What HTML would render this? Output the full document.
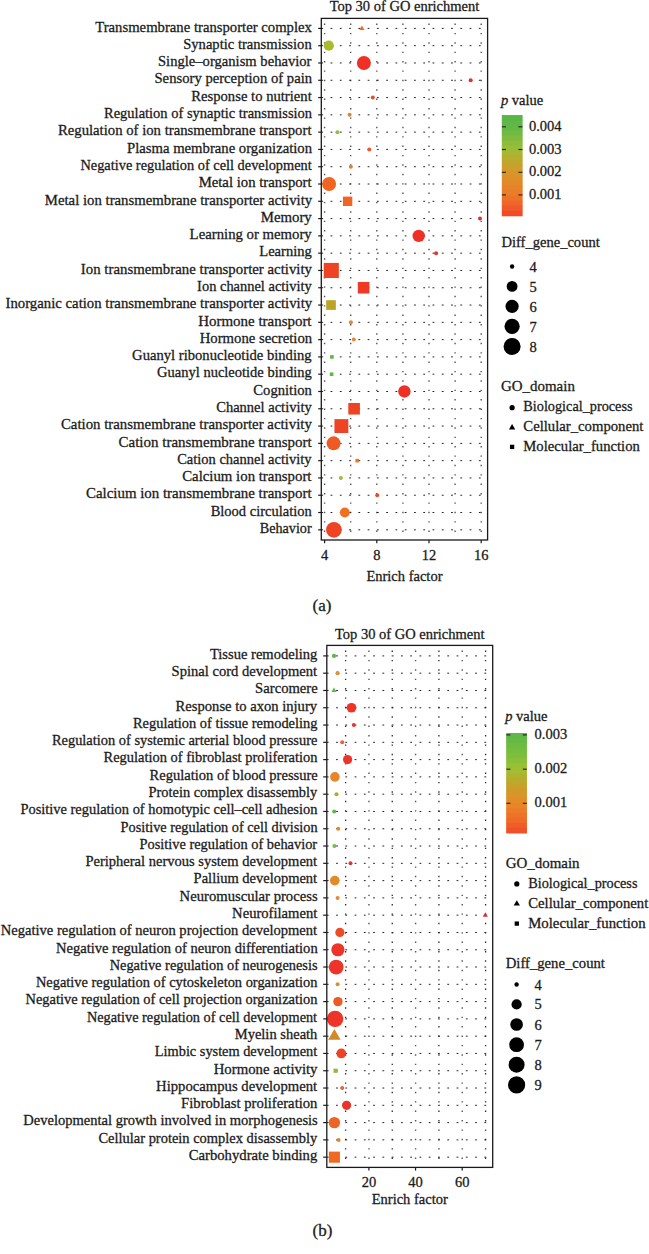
<!DOCTYPE html>
<html><head><meta charset="utf-8"><title>Top 30 of GO enrichment</title><style>html,body{margin:0;padding:0;background:#fff;}
body{width:649px;height:1254px;overflow:hidden;}
svg{display:block;}
text{font-family:"Liberation Serif", serif;fill:#1a1a1a;stroke:#1a1a1a;stroke-width:0.28px;}
.vg{stroke:#555;stroke-width:1.4;stroke-dasharray:1.4 7.99;stroke-dashoffset:4.29;fill:none;}
.vd{stroke:#2a2a2a;stroke-width:1.3;}
.hg{stroke:#222;stroke-width:1.0;stroke-dasharray:1.8 7.47;fill:none;}
.bd{fill:none;stroke:#1a1a1a;stroke-width:1.3;}
.tk{stroke:#1a1a1a;stroke-width:1.2;}
.ct{stroke:#1e1e1e;stroke-width:1.1;}
</style></head><body>
<svg width="649" height="1254" viewBox="0 0 649 1254">
<defs>
<linearGradient id="gA" x1="0" y1="1" x2="0" y2="0"><stop offset="0" stop-color="#EE4426"/><stop offset="0.10" stop-color="#F0602A"/><stop offset="0.21" stop-color="#EC7A28"/><stop offset="0.43" stop-color="#D8962A"/><stop offset="0.55" stop-color="#BEA82C"/><stop offset="0.66" stop-color="#9CBE38"/><stop offset="0.88" stop-color="#62B846"/><stop offset="1" stop-color="#56B648"/></linearGradient>
<linearGradient id="gB" x1="0" y1="1" x2="0" y2="0"><stop offset="0" stop-color="#EF4C26"/><stop offset="0.13" stop-color="#F06A26"/><stop offset="0.30" stop-color="#E88A28"/><stop offset="0.47" stop-color="#C8A02A"/><stop offset="0.64" stop-color="#9EC032"/><stop offset="0.80" stop-color="#78BE3E"/><stop offset="1" stop-color="#5AB848"/></linearGradient>
</defs>
<rect width="649" height="1254" fill="#fff"/>
<line x1="324.60" y1="18.40" x2="324.60" y2="540.00" class="vg"/>
<line x1="350.70" y1="18.40" x2="350.70" y2="540.00" class="vg"/>
<line x1="376.80" y1="18.40" x2="376.80" y2="540.00" class="vg"/>
<line x1="402.90" y1="18.40" x2="402.90" y2="540.00" class="vg"/>
<line x1="429.00" y1="18.40" x2="429.00" y2="540.00" class="vg"/>
<line x1="455.10" y1="18.40" x2="455.10" y2="540.00" class="vg"/>
<line x1="481.20" y1="18.40" x2="481.20" y2="540.00" class="vg"/>
<line x1="321.30" y1="28.40" x2="487.60" y2="28.40" class="hg"/>
<line x1="321.30" y1="45.69" x2="487.60" y2="45.69" class="hg"/>
<line x1="321.30" y1="62.98" x2="487.60" y2="62.98" class="hg"/>
<line x1="321.30" y1="80.27" x2="487.60" y2="80.27" class="hg"/>
<line x1="321.30" y1="97.56" x2="487.60" y2="97.56" class="hg"/>
<line x1="321.30" y1="114.85" x2="487.60" y2="114.85" class="hg"/>
<line x1="321.30" y1="132.14" x2="487.60" y2="132.14" class="hg"/>
<line x1="321.30" y1="149.43" x2="487.60" y2="149.43" class="hg"/>
<line x1="321.30" y1="166.72" x2="487.60" y2="166.72" class="hg"/>
<line x1="321.30" y1="184.01" x2="487.60" y2="184.01" class="hg"/>
<line x1="321.30" y1="201.30" x2="487.60" y2="201.30" class="hg"/>
<line x1="321.30" y1="218.59" x2="487.60" y2="218.59" class="hg"/>
<line x1="321.30" y1="235.88" x2="487.60" y2="235.88" class="hg"/>
<line x1="321.30" y1="253.17" x2="487.60" y2="253.17" class="hg"/>
<line x1="321.30" y1="270.46" x2="487.60" y2="270.46" class="hg"/>
<line x1="321.30" y1="287.75" x2="487.60" y2="287.75" class="hg"/>
<line x1="321.30" y1="305.04" x2="487.60" y2="305.04" class="hg"/>
<line x1="321.30" y1="322.33" x2="487.60" y2="322.33" class="hg"/>
<line x1="321.30" y1="339.62" x2="487.60" y2="339.62" class="hg"/>
<line x1="321.30" y1="356.91" x2="487.60" y2="356.91" class="hg"/>
<line x1="321.30" y1="374.20" x2="487.60" y2="374.20" class="hg"/>
<line x1="321.30" y1="391.49" x2="487.60" y2="391.49" class="hg"/>
<line x1="321.30" y1="408.78" x2="487.60" y2="408.78" class="hg"/>
<line x1="321.30" y1="426.07" x2="487.60" y2="426.07" class="hg"/>
<line x1="321.30" y1="443.36" x2="487.60" y2="443.36" class="hg"/>
<line x1="321.30" y1="460.65" x2="487.60" y2="460.65" class="hg"/>
<line x1="321.30" y1="477.94" x2="487.60" y2="477.94" class="hg"/>
<line x1="321.30" y1="495.23" x2="487.60" y2="495.23" class="hg"/>
<line x1="321.30" y1="512.52" x2="487.60" y2="512.52" class="hg"/>
<line x1="321.30" y1="529.81" x2="487.60" y2="529.81" class="hg"/>
<polygon points="361.90,25.40 364.50,29.90 359.30,29.90" fill="#EE6A22"/>
<circle cx="328.80" cy="45.69" r="5.10" fill="#A9BA2F"/>
<circle cx="363.90" cy="62.98" r="7.00" fill="#EE3026"/>
<circle cx="470.70" cy="80.27" r="2.00" fill="#DC303A"/>
<circle cx="372.80" cy="97.56" r="2.00" fill="#E5502C"/>
<circle cx="349.60" cy="114.85" r="2.00" fill="#D58A32"/>
<circle cx="337.40" cy="132.14" r="2.00" fill="#8CC040"/>
<circle cx="369.30" cy="149.43" r="2.00" fill="#E85A28"/>
<circle cx="350.90" cy="166.72" r="2.00" fill="#E28030"/>
<circle cx="329.10" cy="184.01" r="7.00" fill="#F06522"/>
<rect x="342.90" y="196.60" width="9.40" height="9.40" fill="#F06522"/>
<circle cx="480.00" cy="218.59" r="2.00" fill="#E03030"/>
<circle cx="418.70" cy="235.88" r="6.20" fill="#EE3026"/>
<circle cx="436.10" cy="253.17" r="2.00" fill="#E03535"/>
<rect x="323.75" y="262.91" width="15.10" height="15.10" fill="#EE4425"/>
<rect x="357.80" y="281.95" width="11.60" height="11.60" fill="#EE3A25"/>
<rect x="326.15" y="300.19" width="9.70" height="9.70" fill="#BBA428"/>
<circle cx="350.90" cy="322.33" r="2.00" fill="#DC8A3A"/>
<circle cx="353.80" cy="339.62" r="2.00" fill="#E08A3A"/>
<rect x="330.10" y="355.11" width="3.60" height="3.60" fill="#5EB848"/>
<rect x="329.80" y="372.40" width="3.60" height="3.60" fill="#5EB848"/>
<circle cx="404.40" cy="391.49" r="6.20" fill="#EE3026"/>
<rect x="348.30" y="402.98" width="11.60" height="11.60" fill="#EC4425"/>
<rect x="334.45" y="419.12" width="13.90" height="13.90" fill="#EC4425"/>
<circle cx="333.60" cy="443.36" r="7.00" fill="#EE5A22"/>
<rect x="355.40" y="458.85" width="3.60" height="3.60" fill="#E8782A"/>
<circle cx="340.90" cy="477.94" r="2.00" fill="#A8B830"/>
<circle cx="377.20" cy="495.23" r="2.00" fill="#E25030"/>
<circle cx="344.80" cy="512.52" r="4.90" fill="#EE7020"/>
<circle cx="333.90" cy="529.81" r="7.85" fill="#EE4425"/>
<rect x="321.30" y="18.40" width="166.30" height="521.60" class="bd"/>
<line x1="318.20" y1="28.40" x2="321.30" y2="28.40" class="tk"/>
<text x="311.92" y="31.60" text-anchor="end" font-size="14.72" textLength="216.69" lengthAdjust="spacingAndGlyphs">Transmembrane transporter complex</text>
<line x1="318.20" y1="45.69" x2="321.30" y2="45.69" class="tk"/>
<text x="311.73" y="48.89" text-anchor="end" font-size="14.72" textLength="128.56" lengthAdjust="spacingAndGlyphs">Synaptic transmission</text>
<line x1="318.20" y1="62.98" x2="321.30" y2="62.98" class="tk"/>
<text x="311.48" y="66.18" text-anchor="end" font-size="14.72" textLength="153.51" lengthAdjust="spacingAndGlyphs">Single–organism behavior</text>
<line x1="318.20" y1="80.27" x2="321.30" y2="80.27" class="tk"/>
<text x="312.08" y="83.47" text-anchor="end" font-size="14.72" textLength="157.61" lengthAdjust="spacingAndGlyphs">Sensory perception of pain</text>
<line x1="318.20" y1="97.56" x2="321.30" y2="97.56" class="tk"/>
<text x="311.75" y="100.76" text-anchor="end" font-size="14.72" textLength="120.53" lengthAdjust="spacingAndGlyphs">Response to nutrient</text>
<line x1="318.20" y1="114.85" x2="321.30" y2="114.85" class="tk"/>
<text x="312.11" y="118.05" text-anchor="end" font-size="14.72" textLength="208.09" lengthAdjust="spacingAndGlyphs">Regulation of synaptic transmission</text>
<line x1="318.20" y1="132.14" x2="321.30" y2="132.14" class="tk"/>
<text x="311.50" y="135.34" text-anchor="end" font-size="14.72" textLength="253.59" lengthAdjust="spacingAndGlyphs">Regulation of ion transmembrane transport</text>
<line x1="318.20" y1="149.43" x2="321.30" y2="149.43" class="tk"/>
<text x="312.06" y="152.63" text-anchor="end" font-size="14.72" textLength="185.03" lengthAdjust="spacingAndGlyphs">Plasma membrane organization</text>
<line x1="318.20" y1="166.72" x2="321.30" y2="166.72" class="tk"/>
<text x="311.78" y="169.92" text-anchor="end" font-size="14.72" textLength="231.33" lengthAdjust="spacingAndGlyphs">Negative regulation of cell development</text>
<line x1="318.20" y1="184.01" x2="321.30" y2="184.01" class="tk"/>
<text x="311.64" y="187.21" text-anchor="end" font-size="14.72" textLength="113.01" lengthAdjust="spacingAndGlyphs">Metal ion transport</text>
<line x1="318.20" y1="201.30" x2="321.30" y2="201.30" class="tk"/>
<text x="312.20" y="204.50" text-anchor="end" font-size="14.72" textLength="267.37" lengthAdjust="spacingAndGlyphs">Metal ion transmembrane transporter activity</text>
<line x1="318.20" y1="218.59" x2="321.30" y2="218.59" class="tk"/>
<text x="311.76" y="221.79" text-anchor="end" font-size="14.72" textLength="51.03" lengthAdjust="spacingAndGlyphs">Memory</text>
<line x1="318.20" y1="235.88" x2="321.30" y2="235.88" class="tk"/>
<text x="311.73" y="239.08" text-anchor="end" font-size="14.72" textLength="122.1" lengthAdjust="spacingAndGlyphs">Learning or memory</text>
<line x1="318.20" y1="253.17" x2="321.30" y2="253.17" class="tk"/>
<text x="311.81" y="256.37" text-anchor="end" font-size="14.72" textLength="52.57" lengthAdjust="spacingAndGlyphs">Learning</text>
<line x1="318.20" y1="270.46" x2="321.30" y2="270.46" class="tk"/>
<text x="312.00" y="273.66" text-anchor="end" font-size="14.72" textLength="231.11" lengthAdjust="spacingAndGlyphs">Ion transmembrane transporter activity</text>
<line x1="318.20" y1="287.75" x2="321.30" y2="287.75" class="tk"/>
<text x="311.81" y="290.95" text-anchor="end" font-size="14.72" textLength="114.7" lengthAdjust="spacingAndGlyphs">Ion channel activity</text>
<line x1="318.20" y1="305.04" x2="321.30" y2="305.04" class="tk"/>
<text x="312.15" y="308.24" text-anchor="end" font-size="14.72" textLength="306.66" lengthAdjust="spacingAndGlyphs">Inorganic cation transmembrane transporter activity</text>
<line x1="318.20" y1="322.33" x2="321.30" y2="322.33" class="tk"/>
<text x="311.53" y="325.53" text-anchor="end" font-size="14.72" textLength="113.34" lengthAdjust="spacingAndGlyphs">Hormone transport</text>
<line x1="318.20" y1="339.62" x2="321.30" y2="339.62" class="tk"/>
<text x="312.17" y="342.82" text-anchor="end" font-size="14.72" textLength="112.47" lengthAdjust="spacingAndGlyphs">Hormone secretion</text>
<line x1="318.20" y1="356.91" x2="321.30" y2="356.91" class="tk"/>
<text x="311.65" y="360.11" text-anchor="end" font-size="14.72" textLength="179.56" lengthAdjust="spacingAndGlyphs">Guanyl ribonucleotide binding</text>
<line x1="318.20" y1="374.20" x2="321.30" y2="374.20" class="tk"/>
<text x="311.76" y="377.40" text-anchor="end" font-size="14.72" textLength="154.67" lengthAdjust="spacingAndGlyphs">Guanyl nucleotide binding</text>
<line x1="318.20" y1="391.49" x2="321.30" y2="391.49" class="tk"/>
<text x="311.90" y="394.69" text-anchor="end" font-size="14.72" textLength="58.61" lengthAdjust="spacingAndGlyphs">Cognition</text>
<line x1="318.20" y1="408.78" x2="321.30" y2="408.78" class="tk"/>
<text x="311.80" y="411.98" text-anchor="end" font-size="14.72" textLength="95.6" lengthAdjust="spacingAndGlyphs">Channel activity</text>
<line x1="318.20" y1="426.07" x2="321.30" y2="426.07" class="tk"/>
<text x="311.84" y="429.27" text-anchor="end" font-size="14.72" textLength="250.86" lengthAdjust="spacingAndGlyphs">Cation transmembrane transporter activity</text>
<line x1="318.20" y1="443.36" x2="321.30" y2="443.36" class="tk"/>
<text x="311.60" y="446.56" text-anchor="end" font-size="14.72" textLength="193.03" lengthAdjust="spacingAndGlyphs">Cation transmembrane transport</text>
<line x1="318.20" y1="460.65" x2="321.30" y2="460.65" class="tk"/>
<text x="311.58" y="463.85" text-anchor="end" font-size="14.72" textLength="134.38" lengthAdjust="spacingAndGlyphs">Cation channel activity</text>
<line x1="318.20" y1="477.94" x2="321.30" y2="477.94" class="tk"/>
<text x="311.44" y="481.14" text-anchor="end" font-size="14.72" textLength="129.26" lengthAdjust="spacingAndGlyphs">Calcium ion transport</text>
<line x1="318.20" y1="495.23" x2="321.30" y2="495.23" class="tk"/>
<text x="311.59" y="498.43" text-anchor="end" font-size="14.72" textLength="225.61" lengthAdjust="spacingAndGlyphs">Calcium ion transmembrane transport</text>
<line x1="318.20" y1="512.52" x2="321.30" y2="512.52" class="tk"/>
<text x="311.72" y="515.72" text-anchor="end" font-size="14.72" textLength="101.09" lengthAdjust="spacingAndGlyphs">Blood circulation</text>
<line x1="318.20" y1="529.81" x2="321.30" y2="529.81" class="tk"/>
<text x="311.64" y="533.01" text-anchor="end" font-size="14.72" textLength="51.89" lengthAdjust="spacingAndGlyphs">Behavior</text>
<line x1="324.60" y1="540.00" x2="324.60" y2="543.20" class="tk"/>
<text x="324.60" y="559.80" text-anchor="middle" font-size="14.5" >4</text>
<line x1="376.80" y1="540.00" x2="376.80" y2="543.20" class="tk"/>
<text x="376.80" y="559.80" text-anchor="middle" font-size="14.5" >8</text>
<line x1="429.00" y1="540.00" x2="429.00" y2="543.20" class="tk"/>
<text x="429.00" y="559.80" text-anchor="middle" font-size="14.5" >12</text>
<line x1="481.20" y1="540.00" x2="481.20" y2="543.20" class="tk"/>
<text x="481.20" y="559.80" text-anchor="middle" font-size="14.5" >16</text>
<text x="404.45" y="10.60" text-anchor="middle" font-size="14.5" >Top 30 of GO enrichment</text>
<text x="404.45" y="581.00" text-anchor="middle" font-size="14.5" >Enrich factor</text>
<text x="312.60" y="611.20" text-anchor="start" font-size="17" >(a)</text>
<line x1="345.60" y1="645.40" x2="345.60" y2="1167.40" class="vg vd"/>
<line x1="368.93" y1="645.40" x2="368.93" y2="1167.40" class="vg"/>
<line x1="392.26" y1="645.40" x2="392.26" y2="1167.40" class="vg vd"/>
<line x1="415.59" y1="645.40" x2="415.59" y2="1167.40" class="vg"/>
<line x1="438.92" y1="645.40" x2="438.92" y2="1167.40" class="vg vd"/>
<line x1="462.25" y1="645.40" x2="462.25" y2="1167.40" class="vg"/>
<line x1="485.58" y1="645.40" x2="485.58" y2="1167.40" class="vg vd"/>
<line x1="326.80" y1="655.90" x2="492.70" y2="655.90" class="hg"/>
<line x1="326.80" y1="673.18" x2="492.70" y2="673.18" class="hg"/>
<line x1="326.80" y1="690.47" x2="492.70" y2="690.47" class="hg"/>
<line x1="326.80" y1="707.75" x2="492.70" y2="707.75" class="hg"/>
<line x1="326.80" y1="725.04" x2="492.70" y2="725.04" class="hg"/>
<line x1="326.80" y1="742.32" x2="492.70" y2="742.32" class="hg"/>
<line x1="326.80" y1="759.61" x2="492.70" y2="759.61" class="hg"/>
<line x1="326.80" y1="776.89" x2="492.70" y2="776.89" class="hg"/>
<line x1="326.80" y1="794.18" x2="492.70" y2="794.18" class="hg"/>
<line x1="326.80" y1="811.46" x2="492.70" y2="811.46" class="hg"/>
<line x1="326.80" y1="828.75" x2="492.70" y2="828.75" class="hg"/>
<line x1="326.80" y1="846.03" x2="492.70" y2="846.03" class="hg"/>
<line x1="326.80" y1="863.32" x2="492.70" y2="863.32" class="hg"/>
<line x1="326.80" y1="880.61" x2="492.70" y2="880.61" class="hg"/>
<line x1="326.80" y1="897.89" x2="492.70" y2="897.89" class="hg"/>
<line x1="326.80" y1="915.17" x2="492.70" y2="915.17" class="hg"/>
<line x1="326.80" y1="932.46" x2="492.70" y2="932.46" class="hg"/>
<line x1="326.80" y1="949.75" x2="492.70" y2="949.75" class="hg"/>
<line x1="326.80" y1="967.03" x2="492.70" y2="967.03" class="hg"/>
<line x1="326.80" y1="984.32" x2="492.70" y2="984.32" class="hg"/>
<line x1="326.80" y1="1001.60" x2="492.70" y2="1001.60" class="hg"/>
<line x1="326.80" y1="1018.88" x2="492.70" y2="1018.88" class="hg"/>
<line x1="326.80" y1="1036.17" x2="492.70" y2="1036.17" class="hg"/>
<line x1="326.80" y1="1053.45" x2="492.70" y2="1053.45" class="hg"/>
<line x1="326.80" y1="1070.74" x2="492.70" y2="1070.74" class="hg"/>
<line x1="326.80" y1="1088.03" x2="492.70" y2="1088.03" class="hg"/>
<line x1="326.80" y1="1105.31" x2="492.70" y2="1105.31" class="hg"/>
<line x1="326.80" y1="1122.60" x2="492.70" y2="1122.60" class="hg"/>
<line x1="326.80" y1="1139.88" x2="492.70" y2="1139.88" class="hg"/>
<line x1="326.80" y1="1157.16" x2="492.70" y2="1157.16" class="hg"/>
<circle cx="334.00" cy="655.90" r="2.10" fill="#5CB848"/>
<circle cx="337.60" cy="673.18" r="2.10" fill="#D8923A"/>
<polygon points="334.00,687.47 336.60,691.97 331.40,691.97" fill="#5CB848"/>
<circle cx="351.50" cy="707.75" r="4.80" fill="#EE3428"/>
<circle cx="353.80" cy="725.04" r="2.00" fill="#E83530"/>
<circle cx="342.20" cy="742.32" r="2.00" fill="#E86040"/>
<circle cx="347.60" cy="759.61" r="4.60" fill="#EE3428"/>
<circle cx="334.90" cy="776.89" r="4.80" fill="#E8842A"/>
<circle cx="336.50" cy="794.18" r="2.00" fill="#B0A535"/>
<circle cx="334.20" cy="811.46" r="2.00" fill="#5CB848"/>
<circle cx="338.30" cy="828.75" r="2.00" fill="#E08A38"/>
<circle cx="334.40" cy="846.03" r="2.00" fill="#78BC44"/>
<circle cx="350.50" cy="863.32" r="2.00" fill="#E83030"/>
<circle cx="334.80" cy="880.61" r="4.85" fill="#E08A28"/>
<circle cx="337.60" cy="897.89" r="2.00" fill="#E08A38"/>
<polygon points="485.30,912.17 487.90,916.67 482.70,916.67" fill="#D8303A"/>
<circle cx="339.90" cy="932.46" r="4.60" fill="#EE4A25"/>
<circle cx="337.90" cy="949.75" r="6.60" fill="#EE3428"/>
<circle cx="336.20" cy="967.03" r="7.40" fill="#EE3428"/>
<circle cx="337.60" cy="984.32" r="2.00" fill="#D0962E"/>
<circle cx="337.90" cy="1001.60" r="4.70" fill="#EE5A25"/>
<circle cx="335.10" cy="1018.88" r="8.20" fill="#EE3428"/>
<polygon points="334.40,1028.97 340.64,1039.77 328.16,1039.77" fill="#D08A28"/>
<circle cx="341.30" cy="1053.45" r="4.85" fill="#EE4225"/>
<rect x="333.50" y="1068.64" width="4.20" height="4.20" fill="#98B840"/>
<circle cx="342.20" cy="1088.03" r="2.00" fill="#E86040"/>
<circle cx="346.60" cy="1105.31" r="4.60" fill="#E8342A"/>
<circle cx="334.40" cy="1122.60" r="5.70" fill="#EE6425"/>
<circle cx="338.60" cy="1139.88" r="2.00" fill="#E8842E"/>
<rect x="328.85" y="1151.62" width="11.10" height="11.10" fill="#EE6A22"/>
<rect x="326.80" y="645.40" width="165.90" height="522.00" class="bd"/>
<line x1="323.20" y1="655.90" x2="326.80" y2="655.90" class="tk"/>
<text x="317.34" y="658.70" text-anchor="end" font-size="14.38" textLength="107.41" lengthAdjust="spacingAndGlyphs">Tissue remodeling</text>
<line x1="323.20" y1="673.18" x2="326.80" y2="673.18" class="tk"/>
<text x="317.17" y="675.98" text-anchor="end" font-size="14.38" textLength="145.62" lengthAdjust="spacingAndGlyphs">Spinal cord development</text>
<line x1="323.20" y1="690.47" x2="326.80" y2="690.47" class="tk"/>
<text x="317.76" y="693.27" text-anchor="end" font-size="14.38" textLength="62.62" lengthAdjust="spacingAndGlyphs">Sarcomere</text>
<line x1="323.20" y1="707.75" x2="326.80" y2="707.75" class="tk"/>
<text x="317.09" y="710.55" text-anchor="end" font-size="14.38" textLength="141.49" lengthAdjust="spacingAndGlyphs">Response to axon injury</text>
<line x1="323.20" y1="725.04" x2="326.80" y2="725.04" class="tk"/>
<text x="317.40" y="727.84" text-anchor="end" font-size="14.38" textLength="184.39" lengthAdjust="spacingAndGlyphs">Regulation of tissue remodeling</text>
<line x1="323.20" y1="742.32" x2="326.80" y2="742.32" class="tk"/>
<text x="317.38" y="745.12" text-anchor="end" font-size="14.38" textLength="265.47" lengthAdjust="spacingAndGlyphs">Regulation of systemic arterial blood pressure</text>
<line x1="323.20" y1="759.61" x2="326.80" y2="759.61" class="tk"/>
<text x="317.47" y="762.41" text-anchor="end" font-size="14.38" textLength="213.96" lengthAdjust="spacingAndGlyphs">Regulation of fibroblast proliferation</text>
<line x1="323.20" y1="776.89" x2="326.80" y2="776.89" class="tk"/>
<text x="317.77" y="779.69" text-anchor="end" font-size="14.38" textLength="168.27" lengthAdjust="spacingAndGlyphs">Regulation of blood pressure</text>
<line x1="323.20" y1="794.18" x2="326.80" y2="794.18" class="tk"/>
<text x="317.23" y="796.98" text-anchor="end" font-size="14.38" textLength="168.68" lengthAdjust="spacingAndGlyphs">Protein complex disassembly</text>
<line x1="323.20" y1="811.46" x2="326.80" y2="811.46" class="tk"/>
<text x="317.39" y="814.26" text-anchor="end" font-size="14.38" textLength="296.94" lengthAdjust="spacingAndGlyphs">Positive regulation of homotypic cell–cell adhesion</text>
<line x1="323.20" y1="828.75" x2="326.80" y2="828.75" class="tk"/>
<text x="317.59" y="831.55" text-anchor="end" font-size="14.38" textLength="197.04" lengthAdjust="spacingAndGlyphs">Positive regulation of cell division</text>
<line x1="323.20" y1="846.03" x2="326.80" y2="846.03" class="tk"/>
<text x="317.15" y="848.83" text-anchor="end" font-size="14.38" textLength="177.6" lengthAdjust="spacingAndGlyphs">Positive regulation of behavior</text>
<line x1="323.20" y1="863.32" x2="326.80" y2="863.32" class="tk"/>
<text x="317.14" y="866.12" text-anchor="end" font-size="14.38" textLength="231.7" lengthAdjust="spacingAndGlyphs">Peripheral nervous system development</text>
<line x1="323.20" y1="880.61" x2="326.80" y2="880.61" class="tk"/>
<text x="317.16" y="883.40" text-anchor="end" font-size="14.38" textLength="123.52" lengthAdjust="spacingAndGlyphs">Pallium development</text>
<line x1="323.20" y1="897.89" x2="326.80" y2="897.89" class="tk"/>
<text x="317.61" y="900.69" text-anchor="end" font-size="14.38" textLength="138.0" lengthAdjust="spacingAndGlyphs">Neuromuscular process</text>
<line x1="323.20" y1="915.17" x2="326.80" y2="915.17" class="tk"/>
<text x="317.28" y="917.97" text-anchor="end" font-size="14.38" textLength="85.16" lengthAdjust="spacingAndGlyphs">Neurofilament</text>
<line x1="323.20" y1="932.46" x2="326.80" y2="932.46" class="tk"/>
<text x="317.15" y="935.26" text-anchor="end" font-size="14.38" textLength="316.33" lengthAdjust="spacingAndGlyphs">Negative regulation of neuron projection development</text>
<line x1="323.20" y1="949.75" x2="326.80" y2="949.75" class="tk"/>
<text x="317.71" y="952.54" text-anchor="end" font-size="14.38" textLength="261.79" lengthAdjust="spacingAndGlyphs">Negative regulation of neuron differentiation</text>
<line x1="323.20" y1="967.03" x2="326.80" y2="967.03" class="tk"/>
<text x="317.56" y="969.83" text-anchor="end" font-size="14.38" textLength="207.93" lengthAdjust="spacingAndGlyphs">Negative regulation of neurogenesis</text>
<line x1="323.20" y1="984.32" x2="326.80" y2="984.32" class="tk"/>
<text x="317.45" y="987.12" text-anchor="end" font-size="14.38" textLength="281.52" lengthAdjust="spacingAndGlyphs">Negative regulation of cytoskeleton organization</text>
<line x1="323.20" y1="1001.60" x2="326.80" y2="1001.60" class="tk"/>
<text x="317.41" y="1004.40" text-anchor="end" font-size="14.38" textLength="291.89" lengthAdjust="spacingAndGlyphs">Negative regulation of cell projection organization</text>
<line x1="323.20" y1="1018.88" x2="326.80" y2="1018.88" class="tk"/>
<text x="317.10" y="1021.68" text-anchor="end" font-size="14.38" textLength="230.17" lengthAdjust="spacingAndGlyphs">Negative regulation of cell development</text>
<line x1="323.20" y1="1036.17" x2="326.80" y2="1036.17" class="tk"/>
<text x="317.39" y="1038.97" text-anchor="end" font-size="14.38" textLength="82.66" lengthAdjust="spacingAndGlyphs">Myelin sheath</text>
<line x1="323.20" y1="1053.45" x2="326.80" y2="1053.45" class="tk"/>
<text x="317.24" y="1056.25" text-anchor="end" font-size="14.38" textLength="162.41" lengthAdjust="spacingAndGlyphs">Limbic system development</text>
<line x1="323.20" y1="1070.74" x2="326.80" y2="1070.74" class="tk"/>
<text x="317.51" y="1073.54" text-anchor="end" font-size="14.38" textLength="103.83" lengthAdjust="spacingAndGlyphs">Hormone activity</text>
<line x1="323.20" y1="1088.03" x2="326.80" y2="1088.03" class="tk"/>
<text x="317.15" y="1090.83" text-anchor="end" font-size="14.38" textLength="161.06" lengthAdjust="spacingAndGlyphs">Hippocampus development</text>
<line x1="323.20" y1="1105.31" x2="326.80" y2="1105.31" class="tk"/>
<text x="317.44" y="1108.11" text-anchor="end" font-size="14.38" textLength="136.34" lengthAdjust="spacingAndGlyphs">Fibroblast proliferation</text>
<line x1="323.20" y1="1122.60" x2="326.80" y2="1122.60" class="tk"/>
<text x="317.73" y="1125.39" text-anchor="end" font-size="14.38" textLength="294.4" lengthAdjust="spacingAndGlyphs">Developmental growth involved in morphogenesis</text>
<line x1="323.20" y1="1139.88" x2="326.80" y2="1139.88" class="tk"/>
<text x="317.20" y="1142.68" text-anchor="end" font-size="14.38" textLength="218.71" lengthAdjust="spacingAndGlyphs">Cellular protein complex disassembly</text>
<line x1="323.20" y1="1157.16" x2="326.80" y2="1157.16" class="tk"/>
<text x="317.28" y="1159.96" text-anchor="end" font-size="14.38" textLength="128.59" lengthAdjust="spacingAndGlyphs">Carbohydrate binding</text>
<line x1="368.90" y1="1167.40" x2="368.90" y2="1170.60" class="tk"/>
<text x="368.90" y="1186.70" text-anchor="middle" font-size="14.5" >20</text>
<line x1="415.55" y1="1167.40" x2="415.55" y2="1170.60" class="tk"/>
<text x="415.55" y="1186.70" text-anchor="middle" font-size="14.5" >40</text>
<line x1="462.20" y1="1167.40" x2="462.20" y2="1170.60" class="tk"/>
<text x="462.20" y="1186.70" text-anchor="middle" font-size="14.5" >60</text>
<text x="409.75" y="638.50" text-anchor="middle" font-size="14.5" >Top 30 of GO enrichment</text>
<text x="409.75" y="1204.30" text-anchor="middle" font-size="14.5" >Enrich factor</text>
<text x="312.50" y="1236.30" text-anchor="start" font-size="17" >(b)</text>
<text x="500.90" y="104.80" font-size="14.5"><tspan font-style="italic">p</tspan> value</text>
<rect x="501.90" y="115.20" width="20.50" height="100.50" fill="url(#gA)"/>
<rect x="501.90" y="115.20" width="20.50" height="5.62" fill="#58B648"/>
<rect x="501.90" y="120.23" width="20.50" height="5.62" fill="#5EB747"/>
<rect x="501.90" y="125.25" width="20.50" height="5.62" fill="#63B846"/>
<rect x="501.90" y="130.28" width="20.50" height="5.62" fill="#71BA42"/>
<rect x="501.90" y="135.30" width="20.50" height="5.62" fill="#7EBB3F"/>
<rect x="501.90" y="140.32" width="20.50" height="5.62" fill="#8BBC3C"/>
<rect x="501.90" y="145.35" width="20.50" height="5.62" fill="#98BE39"/>
<rect x="501.90" y="150.38" width="20.50" height="5.62" fill="#A7B734"/>
<rect x="501.90" y="155.40" width="20.50" height="5.62" fill="#B6AD2F"/>
<rect x="501.90" y="160.43" width="20.50" height="5.62" fill="#C3A42C"/>
<rect x="501.90" y="165.45" width="20.50" height="5.62" fill="#CE9D2B"/>
<rect x="501.90" y="170.47" width="20.50" height="5.62" fill="#D8952A"/>
<rect x="501.90" y="175.50" width="20.50" height="5.62" fill="#DD8F2A"/>
<rect x="501.90" y="180.52" width="20.50" height="5.62" fill="#E28929"/>
<rect x="501.90" y="185.55" width="20.50" height="5.62" fill="#E68229"/>
<rect x="501.90" y="190.57" width="20.50" height="5.62" fill="#EB7C28"/>
<rect x="501.90" y="195.60" width="20.50" height="5.62" fill="#ED7229"/>
<rect x="501.90" y="200.62" width="20.50" height="5.62" fill="#EF662A"/>
<rect x="501.90" y="205.65" width="20.50" height="5.62" fill="#F05929"/>
<rect x="501.90" y="210.68" width="20.50" height="5.62" fill="#EE4B27"/>
<line x1="501.90" y1="126.80" x2="505.90" y2="126.80" class="ct"/>
<line x1="518.40" y1="126.80" x2="522.40" y2="126.80" class="ct"/>
<text x="528.90" y="130.80" text-anchor="start" font-size="14.5" >0.004</text>
<line x1="501.90" y1="149.50" x2="505.90" y2="149.50" class="ct"/>
<line x1="518.40" y1="149.50" x2="522.40" y2="149.50" class="ct"/>
<text x="528.90" y="153.50" text-anchor="start" font-size="14.5" >0.003</text>
<line x1="501.90" y1="172.30" x2="505.90" y2="172.30" class="ct"/>
<line x1="518.40" y1="172.30" x2="522.40" y2="172.30" class="ct"/>
<text x="528.90" y="176.30" text-anchor="start" font-size="14.5" >0.002</text>
<line x1="501.90" y1="194.90" x2="505.90" y2="194.90" class="ct"/>
<line x1="518.40" y1="194.90" x2="522.40" y2="194.90" class="ct"/>
<text x="528.90" y="198.90" text-anchor="start" font-size="14.5" >0.001</text>
<text x="501.43" y="247.10" font-size="14.5" textLength="98.31" lengthAdjust="spacingAndGlyphs">Diff_gene_count</text>
<circle cx="512.10" cy="266.50" r="2.20" fill="#000"/>
<text x="529.60" y="271.70" text-anchor="start" font-size="14.5" >4</text>
<circle cx="512.10" cy="286.40" r="5.40" fill="#000"/>
<text x="529.60" y="291.60" text-anchor="start" font-size="14.5" >5</text>
<circle cx="512.10" cy="306.30" r="6.60" fill="#000"/>
<text x="529.60" y="311.50" text-anchor="start" font-size="14.5" >6</text>
<circle cx="512.10" cy="326.30" r="7.60" fill="#000"/>
<text x="529.60" y="331.50" text-anchor="start" font-size="14.5" >7</text>
<circle cx="512.10" cy="346.50" r="8.50" fill="#000"/>
<text x="529.60" y="351.70" text-anchor="start" font-size="14.5" >8</text>
<text x="500.98" y="390.60" font-size="14.5" textLength="73.89" lengthAdjust="spacingAndGlyphs">GO_domain</text>
<circle cx="512.10" cy="407.70" r="2.60" fill="#000"/>
<text x="523.34" y="411.40" font-size="14.5" textLength="109.20" lengthAdjust="spacingAndGlyphs">Biological_process</text>
<polygon points="512.10,424.00 515.22,429.40 508.98,429.40" fill="#000"/>
<text x="523.39" y="431.10" font-size="14.5" textLength="120.03" lengthAdjust="spacingAndGlyphs">Cellular_component</text>
<rect x="509.95" y="444.75" width="4.30" height="4.30" fill="#000"/>
<text x="523.32" y="450.90" font-size="14.5" textLength="116.57" lengthAdjust="spacingAndGlyphs">Molecular_function</text>
<text x="505.20" y="721.00" font-size="14.5"><tspan font-style="italic">p</tspan> value</text>
<rect x="506.40" y="733.10" width="20.40" height="99.80" fill="url(#gB)"/>
<rect x="506.40" y="733.10" width="20.40" height="5.59" fill="#5EB947"/>
<rect x="506.40" y="738.09" width="20.40" height="5.59" fill="#65BA44"/>
<rect x="506.40" y="743.08" width="20.40" height="5.59" fill="#6DBC42"/>
<rect x="506.40" y="748.07" width="20.40" height="5.59" fill="#74BD3F"/>
<rect x="506.40" y="753.06" width="20.40" height="5.59" fill="#7EBE3C"/>
<rect x="506.40" y="758.05" width="20.40" height="5.59" fill="#8ABF38"/>
<rect x="506.40" y="763.04" width="20.40" height="5.59" fill="#96C035"/>
<rect x="506.40" y="768.03" width="20.40" height="5.59" fill="#A2BD31"/>
<rect x="506.40" y="773.02" width="20.40" height="5.59" fill="#AEB42F"/>
<rect x="506.40" y="778.01" width="20.40" height="5.59" fill="#BAAA2D"/>
<rect x="506.40" y="783.00" width="20.40" height="5.59" fill="#C7A12A"/>
<rect x="506.40" y="787.99" width="20.40" height="5.59" fill="#D09A29"/>
<rect x="506.40" y="792.98" width="20.40" height="5.59" fill="#DA9429"/>
<rect x="506.40" y="797.97" width="20.40" height="5.59" fill="#E38D28"/>
<rect x="506.40" y="802.96" width="20.40" height="5.59" fill="#E98528"/>
<rect x="506.40" y="807.95" width="20.40" height="5.59" fill="#EC7C27"/>
<rect x="506.40" y="812.94" width="20.40" height="5.59" fill="#EE7227"/>
<rect x="506.40" y="817.93" width="20.40" height="5.59" fill="#F06926"/>
<rect x="506.40" y="822.92" width="20.40" height="5.59" fill="#F05D26"/>
<rect x="506.40" y="827.91" width="20.40" height="5.59" fill="#EF5226"/>
<line x1="506.40" y1="734.90" x2="510.40" y2="734.90" class="ct"/>
<line x1="522.80" y1="734.90" x2="526.80" y2="734.90" class="ct"/>
<text x="534.60" y="738.90" text-anchor="start" font-size="14.5" >0.003</text>
<line x1="506.40" y1="769.20" x2="510.40" y2="769.20" class="ct"/>
<line x1="522.80" y1="769.20" x2="526.80" y2="769.20" class="ct"/>
<text x="534.60" y="773.20" text-anchor="start" font-size="14.5" >0.002</text>
<line x1="506.40" y1="803.30" x2="510.40" y2="803.30" class="ct"/>
<line x1="522.80" y1="803.30" x2="526.80" y2="803.30" class="ct"/>
<text x="534.60" y="807.30" text-anchor="start" font-size="14.5" >0.001</text>
<text x="505.78" y="867.80" font-size="14.5" textLength="73.79" lengthAdjust="spacingAndGlyphs">GO_domain</text>
<circle cx="516.80" cy="883.90" r="2.60" fill="#000"/>
<text x="528.24" y="888.00" font-size="14.5" textLength="109.20" lengthAdjust="spacingAndGlyphs">Biological_process</text>
<polygon points="516.80,900.20 519.92,905.60 513.68,905.60" fill="#000"/>
<text x="528.29" y="907.70" font-size="14.5" textLength="119.93" lengthAdjust="spacingAndGlyphs">Cellular_component</text>
<rect x="514.65" y="921.45" width="4.30" height="4.30" fill="#000"/>
<text x="528.22" y="927.80" font-size="14.5" textLength="117.38" lengthAdjust="spacingAndGlyphs">Molecular_function</text>
<text x="505.72" y="967.50" font-size="14.5" textLength="99.22" lengthAdjust="spacingAndGlyphs">Diff_gene_count</text>
<circle cx="516.60" cy="984.50" r="2.20" fill="#000"/>
<text x="534.60" y="989.50" text-anchor="start" font-size="14.5" >4</text>
<circle cx="516.60" cy="1004.40" r="5.10" fill="#000"/>
<text x="534.60" y="1009.40" text-anchor="start" font-size="14.5" >5</text>
<circle cx="516.60" cy="1024.50" r="6.30" fill="#000"/>
<text x="534.60" y="1029.50" text-anchor="start" font-size="14.5" >6</text>
<circle cx="516.60" cy="1044.70" r="7.40" fill="#000"/>
<text x="534.60" y="1049.70" text-anchor="start" font-size="14.5" >7</text>
<circle cx="516.60" cy="1064.70" r="8.00" fill="#000"/>
<text x="534.60" y="1069.70" text-anchor="start" font-size="14.5" >8</text>
<circle cx="516.60" cy="1084.90" r="8.60" fill="#000"/>
<text x="534.60" y="1089.90" text-anchor="start" font-size="14.5" >9</text>
</svg>
</body></html>
